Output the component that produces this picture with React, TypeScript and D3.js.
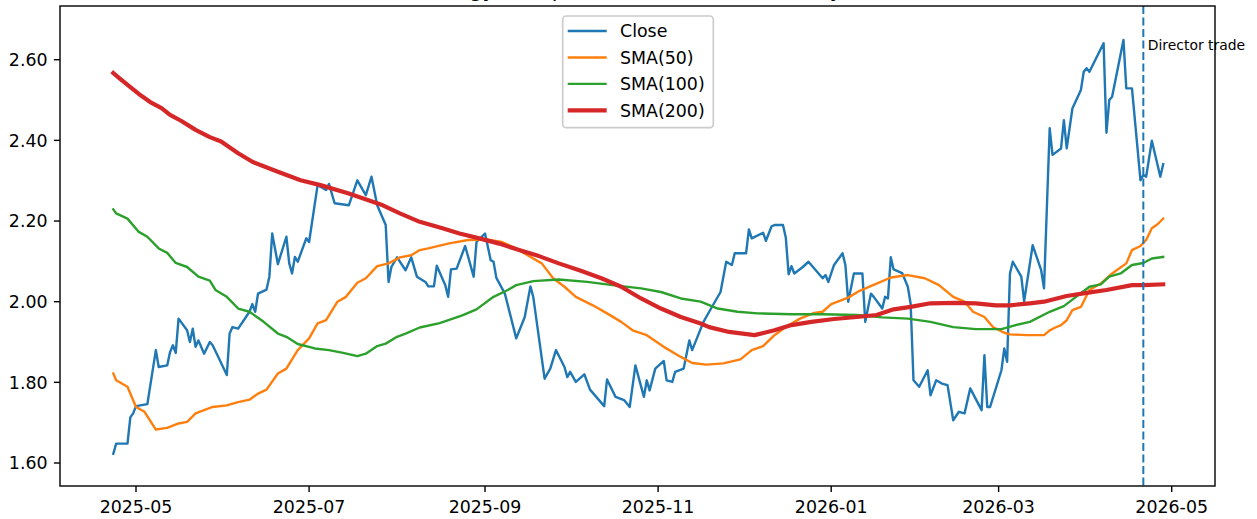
import React from "react";
import * as d3 from "d3";

// ---------- data ----------
const closeData: [string, number][] = [
  ["2025-04-23",1.623],["2025-04-24",1.648],["2025-04-28",1.648],["2025-04-29",1.713],["2025-04-30",1.723],["2025-05-01",1.741],["2025-05-05",1.746],["2025-05-08",1.880],["2025-05-09",1.838],["2025-05-12",1.842],["2025-05-13",1.875],["2025-05-14",1.892],["2025-05-15",1.873],["2025-05-16",1.958],["2025-05-19",1.929],["2025-05-20",1.900],["2025-05-21",1.933],["2025-05-22",1.888],["2025-05-23",1.904],["2025-05-25",1.871],["2025-05-27",1.900],["2025-05-28",1.892],["2025-05-30",1.863],["2025-06-02",1.818],["2025-06-03",1.921],["2025-06-04",1.937],["2025-06-06",1.933],["2025-06-10",1.975],["2025-06-11",1.994],["2025-06-12",1.975],["2025-06-13",2.020],["2025-06-16",2.030],["2025-06-17",2.062],["2025-06-18",2.169],["2025-06-20",2.093],["2025-06-23",2.161],["2025-06-24",2.095],["2025-06-25",2.070],["2025-06-26",2.111],["2025-06-27",2.099],["2025-06-30",2.157],["2025-07-01",2.148],["2025-07-04",2.289],["2025-07-05",2.285],["2025-07-07",2.277],["2025-07-08",2.292],["2025-07-10",2.244],["2025-07-15",2.239],["2025-07-18",2.301],["2025-07-21",2.264],["2025-07-23",2.310],["2025-07-25",2.239],["2025-07-28",2.190],["2025-07-29",2.049],["2025-07-30",2.086],["2025-08-01",2.110],["2025-08-04",2.078],["2025-08-06",2.110],["2025-08-08",2.062],["2025-08-11",2.049],["2025-08-12",2.038],["2025-08-14",2.038],["2025-08-15",2.089],["2025-08-18",2.041],["2025-08-19",2.012],["2025-08-20",2.080],["2025-08-22",2.082],["2025-08-25",2.138],["2025-08-28",2.062],["2025-08-29",2.148],["2025-09-01",2.169],["2025-09-03",2.103],["2025-09-04",2.099],["2025-09-05",2.059],["2025-09-08",2.020],["2025-09-12",1.909],["2025-09-15",1.962],["2025-09-17",2.038],["2025-09-18",2.012],["2025-09-22",1.809],["2025-09-24",1.834],["2025-09-26",1.880],["2025-09-29",1.838],["2025-09-30",1.813],["2025-10-01",1.826],["2025-10-03",1.801],["2025-10-06",1.820],["2025-10-08",1.782],["2025-10-13",1.741],["2025-10-14",1.807],["2025-10-17",1.764],["2025-10-20",1.756],["2025-10-22",1.739],["2025-10-24",1.842],["2025-10-27",1.764],["2025-10-28",1.805],["2025-10-29",1.780],["2025-10-31",1.834],["2025-11-03",1.853],["2025-11-04",1.805],["2025-11-06",1.801],["2025-11-07",1.826],["2025-11-10",1.834],["2025-11-12",1.904],["2025-11-13",1.880],["2025-11-17",1.950],["2025-11-19",1.975],["2025-11-23",2.024],["2025-11-25",2.099],["2025-11-27",2.091],["2025-11-28",2.120],["2025-12-02",2.120],["2025-12-03",2.179],["2025-12-04",2.157],["2025-12-08",2.171],["2025-12-09",2.151],["2025-12-11",2.187],["2025-12-12",2.190],["2025-12-15",2.190],["2025-12-16",2.159],["2025-12-17",2.068],["2025-12-18",2.088],["2025-12-19",2.070],["2025-12-22",2.086],["2025-12-24",2.099],["2025-12-28",2.066],["2025-12-29",2.058],["2025-12-30",2.066],["2025-12-31",2.049],["2026-01-02",2.091],["2026-01-05",2.120],["2026-01-06",2.091],["2026-01-07",2.000],["2026-01-09",2.070],["2026-01-12",2.070],["2026-01-13",1.950],["2026-01-15",2.020],["2026-01-16",2.012],["2026-01-19",1.983],["2026-01-20",2.012],["2026-01-21",2.008],["2026-01-22",2.110],["2026-01-23",2.080],["2026-01-26",2.071],["2026-01-28",2.037],["2026-01-29",1.995],["2026-01-30",1.805],["2026-02-01",1.789],["2026-02-04",1.830],["2026-02-05",1.768],["2026-02-07",1.805],["2026-02-09",1.797],["2026-02-11",1.793],["2026-02-13",1.706],["2026-02-15",1.727],["2026-02-17",1.723],["2026-02-19",1.785],["2026-02-23",1.731],["2026-02-24",1.867],["2026-02-25",1.739],["2026-02-26",1.739],["2026-03-02",1.830],["2026-03-03",1.884],["2026-03-04",1.851],["2026-03-05",2.070],["2026-03-06",2.099],["2026-03-09",2.062],["2026-03-10",2.001],["2026-03-13",2.140],["2026-03-16",2.078],["2026-03-17",2.033],["2026-03-19",2.430],["2026-03-20",2.364],["2026-03-23",2.380],["2026-03-24",2.450],["2026-03-25",2.380],["2026-03-27",2.479],["2026-03-30",2.525],["2026-03-31",2.570],["2026-04-01",2.579],["2026-04-02",2.570],["2026-04-07",2.641],["2026-04-08",2.419],["2026-04-09",2.500],["2026-04-10",2.508],["2026-04-14",2.649],["2026-04-15",2.529],["2026-04-17",2.529],["2026-04-20",2.301],["2026-04-21",2.314],["2026-04-22",2.310],["2026-04-24",2.399],["2026-04-27",2.310],["2026-04-28",2.341],
];

const sma50Data: [string, number][] = [
  ["2025-04-23",1.822],["2025-04-24",1.805],["2025-04-28",1.789],["2025-05-01",1.739],["2025-05-04",1.727],["2025-05-08",1.683],["2025-05-12",1.687],["2025-05-16",1.698],["2025-05-19",1.702],["2025-05-22",1.723],["2025-05-28",1.739],["2025-06-02",1.743],["2025-06-06",1.751],["2025-06-10",1.757],["2025-06-13",1.772],["2025-06-16",1.782],["2025-06-20",1.822],["2025-06-23",1.834],["2025-06-27",1.880],["2025-07-01",1.909],["2025-07-04",1.946],["2025-07-07",1.954],["2025-07-11",2.000],["2025-07-14",2.012],["2025-07-18",2.047],["2025-07-21",2.058],["2025-07-25",2.088],["2025-07-29",2.095],["2025-08-02",2.110],["2025-08-06",2.115],["2025-08-09",2.128],["2025-08-12",2.132],["2025-08-19",2.144],["2025-08-26",2.153],["2025-09-02",2.154],["2025-09-07",2.148],["2025-09-12",2.132],["2025-09-16",2.115],["2025-09-21",2.095],["2025-09-25",2.058],["2025-09-29",2.037],["2025-10-03",2.012],["2025-10-09",1.991],["2025-10-14",1.971],["2025-10-19",1.950],["2025-10-23",1.929],["2025-10-28",1.917],["2025-11-03",1.888],["2025-11-09",1.863],["2025-11-13",1.848],["2025-11-18",1.844],["2025-11-24",1.847],["2025-11-30",1.857],["2025-12-04",1.880],["2025-12-08",1.890],["2025-12-12",1.917],["2025-12-16",1.937],["2025-12-21",1.958],["2025-12-26",1.972],["2025-12-29",1.975],["2026-01-01",1.994],["2026-01-07",2.010],["2026-01-11",2.027],["2026-01-17",2.045],["2026-01-22",2.060],["2026-01-28",2.066],["2026-02-03",2.058],["2026-02-08",2.041],["2026-02-13",2.012],["2026-02-17",2.000],["2026-02-20",1.975],["2026-02-24",1.962],["2026-02-27",1.937],["2026-03-03",1.923],["2026-03-05",1.919],["2026-03-11",1.917],["2026-03-17",1.917],["2026-03-19",1.929],["2026-03-21",1.936],["2026-03-23",1.942],["2026-03-25",1.954],["2026-03-27",1.979],["2026-03-30",1.987],["2026-04-02",2.029],["2026-04-06",2.045],["2026-04-10",2.070],["2026-04-15",2.095],["2026-04-17",2.128],["2026-04-20",2.138],["2026-04-22",2.153],["2026-04-24",2.182],["2026-04-26",2.192],["2026-04-28",2.206],
];

const sma100Data: [string, number][] = [
  ["2025-04-23",2.229],["2025-04-24",2.219],["2025-04-28",2.206],["2025-05-02",2.173],["2025-05-05",2.161],["2025-05-09",2.132],["2025-05-12",2.121],["2025-05-15",2.096],["2025-05-19",2.086],["2025-05-23",2.062],["2025-05-27",2.052],["2025-05-29",2.029],["2025-06-02",2.012],["2025-06-06",1.983],["2025-06-10",1.975],["2025-06-15",1.950],["2025-06-20",1.921],["2025-06-23",1.913],["2025-06-27",1.895],["2025-07-03",1.884],["2025-07-08",1.880],["2025-07-13",1.873],["2025-07-18",1.865],["2025-07-21",1.871],["2025-07-25",1.890],["2025-07-28",1.896],["2025-08-01",1.913],["2025-08-04",1.921],["2025-08-09",1.936],["2025-08-16",1.947],["2025-08-24",1.966],["2025-08-29",1.981],["2025-09-04",2.012],["2025-09-09",2.029],["2025-09-12",2.041],["2025-09-18",2.051],["2025-09-27",2.055],["2025-10-07",2.049],["2025-10-16",2.041],["2025-10-26",2.033],["2025-11-02",2.024],["2025-11-09",2.008],["2025-11-16",2.000],["2025-11-22",1.983],["2025-11-29",1.975],["2025-12-06",1.971],["2025-12-18",1.969],["2025-12-29",1.969],["2026-01-10",1.967],["2026-01-19",1.961],["2026-01-28",1.958],["2026-02-05",1.950],["2026-02-13",1.937],["2026-02-21",1.932],["2026-03-02",1.932],["2026-03-07",1.942],["2026-03-12",1.950],["2026-03-19",1.975],["2026-03-24",1.989],["2026-03-27",2.005],["2026-04-02",2.037],["2026-04-06",2.043],["2026-04-09",2.062],["2026-04-13",2.070],["2026-04-17",2.091],["2026-04-21",2.096],["2026-04-24",2.107],["2026-04-28",2.111],
];

const sma200Data: [string, number][] = [
  ["2025-04-23",2.567],["2025-04-25",2.555],["2025-04-29",2.532],["2025-05-02",2.515],["2025-05-06",2.495],["2025-05-10",2.480],["2025-05-13",2.463],["2025-05-17",2.448],["2025-05-22",2.426],["2025-05-27",2.408],["2025-05-31",2.397],["2025-06-06",2.368],["2025-06-11",2.347],["2025-06-20",2.322],["2025-06-28",2.301],["2025-07-05",2.289],["2025-07-15",2.268],["2025-07-27",2.239],["2025-08-02",2.219],["2025-08-09",2.198],["2025-08-17",2.182],["2025-08-23",2.169],["2025-08-30",2.157],["2025-09-06",2.144],["2025-09-13",2.128],["2025-09-20",2.113],["2025-09-27",2.095],["2025-10-05",2.076],["2025-10-12",2.058],["2025-10-19",2.037],["2025-10-26",2.008],["2025-11-02",1.983],["2025-11-09",1.962],["2025-11-16",1.946],["2025-11-19",1.937],["2025-11-26",1.925],["2025-12-05",1.917],["2025-12-12",1.929],["2025-12-18",1.942],["2025-12-25",1.950],["2026-01-02",1.957],["2026-01-10",1.962],["2026-01-17",1.967],["2026-01-23",1.981],["2026-01-29",1.987],["2026-02-05",1.996],["2026-02-14",1.997],["2026-02-21",1.996],["2026-02-28",1.991],["2026-03-05",1.991],["2026-03-12",1.996],["2026-03-17",2.000],["2026-03-25",2.014],["2026-04-01",2.022],["2026-04-08",2.029],["2026-04-17",2.041],["2026-04-21",2.041],["2026-04-28",2.043],
];

const seriesNames = ["Close", "SMA(50)", "SMA(100)", "SMA(200)"];
const seriesColors = ["#1f77b4", "#ff7f0e", "#2ca02c", "#d62728"];
const directorTradeDate = "2026-04-21";
const directorLabel = "Director trade";
const yTicks = [1.6, 1.8, 2.0, 2.2, 2.4, 2.6];
const titleText = "Energy Group — Close with SMA overlays";

// ---------- layout ----------
const W = 1257;
const H = 519;
const plot = { left: 60, right: 1215, top: 6, bottom: 486 };
const FONT = "'DejaVu Sans', sans-serif";

const parse = d3.timeParse("%Y-%m-%d");

export default function App() {
  const x = d3
    .scaleTime()
    .domain([parse("2025-05-01")!, parse("2026-05-01")!])
    .range([136, 1171.7]);
  const y = d3.scaleLinear().domain([1.6, 2.6]).range([463, 59.7]);

  const line = d3
    .line<[string, number]>()
    .x((d) => x(parse(d[0])!))
    .y((d) => y(d[1]));

  const xTicks = d3.timeMonth
    .every(2)!
    .range(parse("2025-04-01")!, parse("2026-06-01")!)
    .filter((d) => x(d) >= plot.left && x(d) <= plot.right);
  const fmtX = d3.timeFormat("%Y-%m");

  const allSeries = [closeData, sma50Data, sma100Data, sma200Data];
  const widths = [2.4, 2.4, 2.4, 4.2];
  const dx = x(parse(directorTradeDate)!);

  const legendX = 562.7;
  const legendY = 16;
  const rowY = (i: number) => 31 + i * 26.45;

  return (
    <svg
      width={W}
      height={H}
      style={{ position: "absolute", left: 0, top: 0, background: "#fff" }}
      fontFamily={FONT}
    >
      <rect x={0} y={0} width={W} height={H} fill="#fff" />
      <text x={(plot.left + plot.right) / 2} y={-3} fontSize={20.8} textAnchor="middle" fill="#000">
        {titleText}
      </text>

      {/* series */}
      {allSeries.map((s, i) => (
        <path
          key={seriesNames[i]}
          d={line(s) || ""}
          fill="none"
          stroke={seriesColors[i]}
          strokeWidth={widths[i]}
          strokeLinejoin="round"
          strokeLinecap="square"
        />
      ))}

      {/* director trade */}
      <line
        x1={dx}
        x2={dx}
        y1={plot.top}
        y2={plot.bottom}
        stroke="#1f77b4"
        strokeWidth={2}
        strokeDasharray="8,3.5"
      />
      <text x={dx + 4.5} y={50} fontSize={13.9} fill="#000">
        {directorLabel}
      </text>

      {/* spines */}
      <rect
        x={plot.left}
        y={plot.top}
        width={plot.right - plot.left}
        height={plot.bottom - plot.top}
        fill="none"
        stroke="#000"
        strokeWidth={1.4}
      />

      {/* y axis */}
      {yTicks.map((t) => (
        <g key={t}>
          <line x1={plot.left - 6.1} x2={plot.left} y1={y(t)} y2={y(t)} stroke="#000" strokeWidth={1.4} />
          <text x={47.6} y={y(t) + 6.3} fontSize={17.4} textAnchor="end" fill="#000">
            {t.toFixed(2)}
          </text>
        </g>
      ))}

      {/* x axis */}
      {xTicks.map((t) => (
        <g key={t.toISOString()}>
          <line x1={x(t)} x2={x(t)} y1={plot.bottom} y2={plot.bottom + 6.1} stroke="#000" strokeWidth={1.4} />
          <text x={x(t)} y={512.6} fontSize={17.4} textAnchor="middle" fill="#000">
            {fmtX(t)}
          </text>
        </g>
      ))}

      {/* legend */}
      <rect
        x={legendX}
        y={legendY}
        width={150.6}
        height={111.7}
        rx={3.5}
        fill="#fff"
        fillOpacity={0.8}
        stroke="#cccccc"
        strokeWidth={1.7}
      />
      {seriesNames.map((n, i) => (
        <g key={n}>
          <line
            x1={567.7}
            x2={606.7}
            y1={rowY(i)}
            y2={rowY(i)}
            stroke={seriesColors[i]}
            strokeWidth={widths[i]}
          />
          <text x={620} y={rowY(i) + 6.2} fontSize={17.4} fill="#000">
            {n}
          </text>
        </g>
      ))}
    </svg>
  );
}
